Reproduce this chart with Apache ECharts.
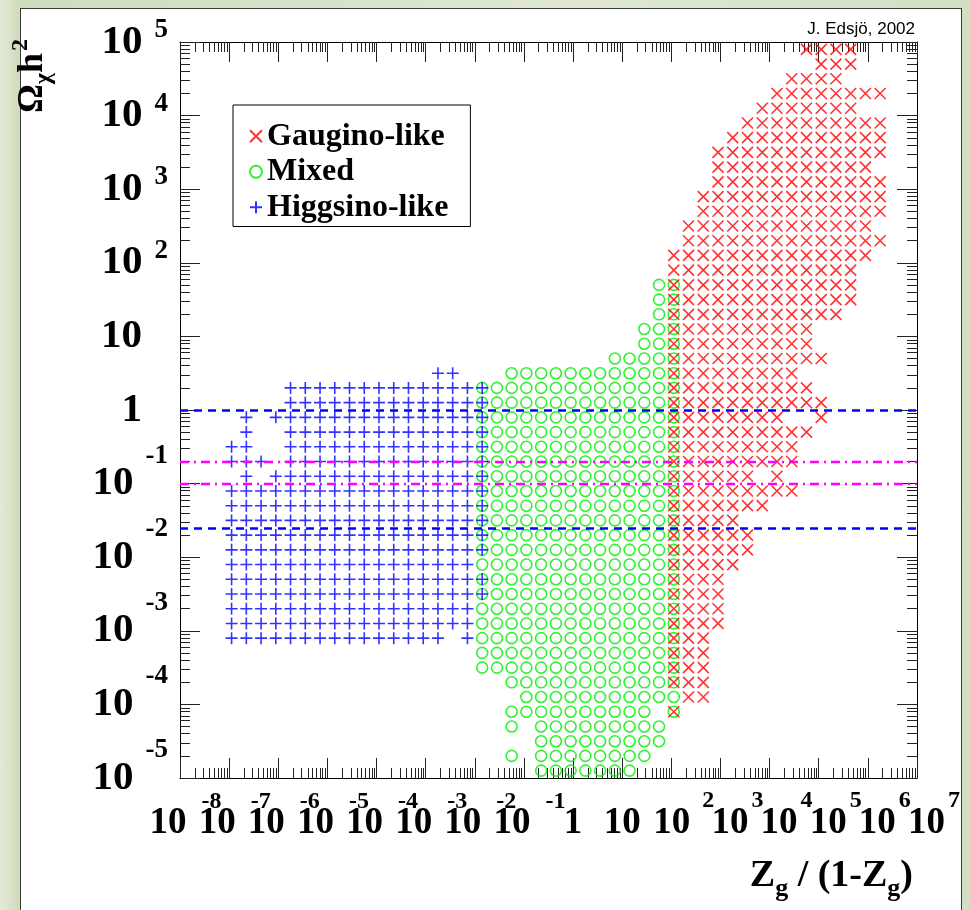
<!DOCTYPE html>
<html><head><meta charset="utf-8">
<script src="https://cdn.jsdelivr.net/npm/echarts@6/dist/echarts.min.js"></script>
<style>
html,body{margin:0;padding:0;}
body{width:969px;height:910px;position:relative;overflow:hidden;
 background:linear-gradient(90deg,#e3ead8 0px,#cfdcbd 18px,#dfe7d3 60%,#d3dfc3 100%);}
#panel{position:absolute;left:20px;top:8px;width:942px;height:904px;background:#fff;border:1.5px solid #3a3a3a;box-sizing:border-box;}
#c{position:absolute;left:0;top:0;width:969px;height:910px;}
</style>
</head><body><div id="panel"></div><div id="c"></div><script>
// ---- data: 2-D bins (log10 centres) and occupied cells ----
const xBinCentres = [-7.85,-7.55,-7.25,-6.95,-6.65,-6.35,-6.05,-5.75,-5.45,-5.15,
 -4.85,-4.55,-4.25,-3.95,-3.65,-3.35,-3.05,-2.75,-2.45,-2.15,
 -1.85,-1.55,-1.25,-0.95,-0.65,-0.35,-0.05,0.25,0.55,0.85,
 1.15,1.45,1.75,2.05,2.35,2.65,2.95,3.25,3.55,3.85,
 4.15,4.45,4.75,5.05,5.35,5.65,5.95,6.25,6.55,6.85];
const yBinCentres = [4.9,4.7,4.5,4.3,4.1,3.9,3.7,3.5,3.3,3.1,
 2.9,2.7,2.5,2.3,2.1,1.9,1.7,1.5,1.3,1.1,
 0.9,0.7,0.5,0.3,0.1,-0.1,-0.3,-0.5,-0.7,-0.9,
 -1.1,-1.3,-1.5,-1.7,-1.9,-2.1,-2.3,-2.5,-2.7,-2.9,
 -3.1,-3.3,-3.5,-3.7,-3.9,-4.1,-4.3,-4.5,-4.7,-4.9];

const gauginoMap = [
".......... .......... .......... .......... ..####....",
".......... .......... .......... .......... ...###....",
".......... .......... .......... .......... .####.....",
".......... .......... .......... .......... ########..",
".......... .......... .......... .........# ######....",
".......... .......... .......... ........## ########..",
".......... .......... .......... .......### ########..",
".......... .......... .......... ......#### ########..",
".......... .......... .......... ......#### #######...",
".......... .......... .......... ......#### ########..",
".......... .......... .......... .....##### ########..",
".......... .......... .......... .....##### ########..",
".......... .......... .......... ....###### #######...",
".......... .......... .......... ....###### ########..",
".......... .......... .......... ...####### #######...",
".......... .......... .......... ...####### ######....",
".......... .......... .......... ...####### ######....",
".......... .......... .......... ...####### ######....",
".......... .......... .......... ...####### #####.....",
".......... .......... .......... ...####### ###.......",
".......... .......... .......... ...####### ###.......",
".......... .......... .......... ...####### ####......",
".......... .......... .......... ...####### ##........",
".......... .......... .......... ...####### ###.......",
".......... .......... .......... ...####### ####......",
".......... .......... .......... ...####### #..#......",
".......... .......... .......... ...####### ###.......",
".......... .......... .......... ...####### ##........",
".......... .......... .......... ...####### ##........",
".......... .......... .......... ...######. #.........",
".......... .......... .......... ...####### ##........",
".......... .......... .......... ...####### ..........",
".......... .......... .......... ...#####.. ..........",
".......... .......... .......... ...######. ..........",
".......... .......... .......... ...######. ..........",
".......... .......... .......... ...#####.. ..........",
".......... .......... .......... ...####... ..........",
".......... .......... .......... ...####... ..........",
".......... .......... .......... ...####... ..........",
".......... .......... .......... ...####... ..........",
".......... .......... .......... ...###.... ..........",
".......... .......... .......... ...###.... ..........",
".......... .......... .......... ...###.... ..........",
".......... .......... .......... ...###.... ..........",
".......... .......... .......... ....##.... ..........",
".......... .......... .......... ...#...... ..........",
".......... .......... .......... .......... ..........",
".......... .......... .......... .......... ..........",
".......... .......... .......... .......... ..........",
".......... .......... .......... .......... .........."];

const mixedMap = [
".......... .......... .......... .......... ..........",
".......... .......... .......... .......... ..........",
".......... .......... .......... .......... ..........",
".......... .......... .......... .......... ..........",
".......... .......... .......... .......... ..........",
".......... .......... .......... .......... ..........",
".......... .......... .......... .......... ..........",
".......... .......... .......... .......... ..........",
".......... .......... .......... .......... ..........",
".......... .......... .......... .......... ..........",
".......... .......... .......... .......... ..........",
".......... .......... .......... .......... ..........",
".......... .......... .......... .......... ..........",
".......... .......... .......... .......... ..........",
".......... .......... .......... .......... ..........",
".......... .......... .......... .......... ..........",
".......... .......... .......... ..##...... ..........",
".......... .......... .......... ..##...... ..........",
".......... .......... .......... ..##...... ..........",
".......... .......... .......... .###...... ..........",
".......... .......... .......... .###...... ..........",
".......... .......... .........# ####...... ..........",
".......... .......... ..######## ####...... ..........",
".......... .......... ########## ####...... ..........",
".......... .......... ########## ####...... ..........",
".......... .......... ########## ####...... ..........",
".......... .......... ########## ####...... ..........",
".......... .......... ########## ####...... ..........",
".......... .......... ########## ####...... ..........",
".......... .......... ########## ####...... ..........",
".......... .......... ########## ####...... ..........",
".......... .......... ########## ####...... ..........",
".......... .......... ########## ####...... ..........",
".......... .......... ########## ####...... ..........",
".......... .......... ########## ####...... ..........",
".......... .......... ########## ####...... ..........",
".......... .......... ########## ####...... ..........",
".......... .......... ########## ####...... ..........",
".......... .......... ########## ####...... ..........",
".......... .......... ########## ####...... ..........",
".......... .......... ########## ####...... ..........",
".......... .......... ########## ####...... ..........",
".......... .......... ########## ####...... ..........",
".......... .......... ..######## ####...... ..........",
".......... .......... ...####### ####...... ..........",
".......... .......... ..######## ##.#...... ..........",
".......... .......... ..#.###### ###....... ..........",
".......... .......... ....###### ###....... ..........",
".......... .......... ..#.###### ##........ ..........",
".......... .......... ....###### #......... .........."];

const higgsinoMap = [
".......... .......... .......... .......... ..........",
".......... .......... .......... .......... ..........",
".......... .......... .......... .......... ..........",
".......... .......... .......... .......... ..........",
".......... .......... .......... .......... ..........",
".......... .......... .......... .......... ..........",
".......... .......... .......... .......... ..........",
".......... .......... .......... .......... ..........",
".......... .......... .......... .......... ..........",
".......... .......... .......... .......... ..........",
".......... .......... .......... .......... ..........",
".......... .......... .......... .......... ..........",
".......... .......... .......... .......... ..........",
".......... .......... .......... .......... ..........",
".......... .......... .......... .......... ..........",
".......... .......... .......... .......... ..........",
".......... .......... .......... .......... ..........",
".......... .......... .......... .......... ..........",
".......... .......... .......... .......... ..........",
".......... .......... .......... .......... ..........",
".......... .......... .......... .......... ..........",
".......... .......... .......... .......... ..........",
".......... .......##. .......... .......... ..........",
".......### ########## #......... .......... ..........",
".......### ########## #......... .......... ..........",
"....#.#### ########## #......... .......... ..........",
"....#..### ########## #......... .......... ..........",
"...##..### ########## #......... .......... ..........",
"...###.### ########## #......... .......... ..........",
"....#.#### ########## #......... .......... ..........",
"...####### ########## #......... .......... ..........",
"...####### ########## #......... .......... ..........",
"...####### ########## #......... .......... ..........",
"...####### ########## #......... .......... ..........",
"...####### ########## #......... .......... ..........",
"...####### ########## .......... .......... ..........",
"...####### ########## #......... .......... ..........",
"...####### ########## #......... .......... ..........",
"...####### ########## .......... .......... ..........",
"...####### ########## .......... .......... ..........",
"...####### ########.# .......... .......... ..........",
".......... .......... .......... .......... ..........",
".......... .......... .......... .......... ..........",
".......... .......... .......... .......... ..........",
".......... .......... .......... .......... ..........",
".......... .......... .......... .......... ..........",
".......... .......... .......... .......... ..........",
".......... .......... .......... .......... ..........",
".......... .......... .......... .......... ..........",
".......... .......... .......... .......... .........."];

const seriesNames = ['Gaugino-like', 'Mixed', 'Higgsino-like'];
const xTickExponents = [-8,-7,-6,-5,-4,-3,-2,-1,0,1,2,3,4,5,6,7];
const yTickExponents = [-5,-4,-3,-2,-1,0,1,2,3,4,5];
const blueDashedLevels = [1, 0.025];
const magentaDashDotLevels = [0.2, 0.1];
const xTitle = ['Z', 'g', ' / (1-Z', 'g', ')'];
const yTitle = ['Ω', 'χ', 'h', '2'];
const creditText = 'J. Edsjö, 2002';

// ---- helpers ----
function cells(map) {
  const out = [];
  map.forEach((row, r) => {
    const s = row.replace(/ /g, '');
    for (let i = 0; i < s.length; i++) if (s[i] === '#') out.push([xBinCentres[i], yBinCentres[r]]);
  });
  return out;
}
function minorTicks(lo, hi) {
  const v = [];
  for (let d = lo; d < hi; d++) for (let k = 2; k <= 9; k++) v.push(d + Math.log10(k));
  return v;
}
const SERIF = 'Liberation Serif';
const sb = (size, extra) => Object.assign({fontFamily: SERIF, fontWeight: 'bold', fontSize: size, color: '#000'}, extra || {});
const TICK = '#222';

function xLabel(v) {
  const e = Math.round(v);
  if (e === 0) return '{b|1}';
  if (e === 1) return '{b|10}';
  if (e < 0) return '{bn|10}{en|' + e + '}';
  if (e === 2) return '{b2|10}{e2|2}';
  return '{b3|10}{e3|' + e + '}';
}
function yLabel(v) {
  const e = Math.round(v);
  if (e === 0) return '{b|1}{sp| }';
  if (e === 1) return '{b|10}{sp| }';
  if (e < 0) return '{b|10}{en|' + e + '}';
  return '{b|10}{ep|' + e + '}';
}

const xMin = xTickExponents[0], xMax = xTickExponents[xTickExponents.length - 1];
const yMin = yTickExponents[0], yMax = yTickExponents[yTickExponents.length - 1];
// labels split over two axes (alternate decades) so that ECharts does not drop overlapping ones
const xLabelsA = xTickExponents.filter((e, k) => k % 2 === 0);
const xLabelsB = xTickExponents.filter((e, k) => k % 2 === 1);
const yLabelsA = yTickExponents.filter((e, k) => k % 2 === 0);
const yLabelsB = yTickExponents.filter((e, k) => k % 2 === 1);

function axisBase(extra) {
  return Object.assign({type: 'value', splitLine: {show: false}, axisPointer: {show: false}}, extra);
}
const hiddenLine = {show: false, onZero: false};
const frameLine = {show: true, onZero: false, lineStyle: {color: '#000', width: 1}};
const noTick = {show: false};

const xRich = {
  b: sb(37, {lineHeight: 40}),
  bn: sb(37, {lineHeight: 40, padding: [0, 0, 0, 11]}),
  en: sb(24, {lineHeight: 24, padding: [0, 0, 42, 15]}),
  b2: sb(37, {lineHeight: 40, padding: [0, 0, 0, 25]}),
  e2: sb(24, {lineHeight: 24, padding: [0, 0, 44, 12]}),
  b3: sb(37, {lineHeight: 40, padding: [0, 0, 0, 34]}),
  e3: sb(24, {lineHeight: 24, padding: [0, 0, 44, 3]})
};
const yRich = {
  b: sb(41, {lineHeight: 44}),
  sp: sb(27, {lineHeight: 27, width: 26}),
  ep: sb(27, {lineHeight: 27, padding: [0, 0, 24, 12]}),
  en: sb(27, {lineHeight: 27, padding: [0, 0, 56, 12]})
};
function xLabelCfg(values) {
  return {show: true, customValues: values, showMinLabel: true, showMaxLabel: true, hideOverlap: false,
    margin: 45, verticalAlign: 'middle', align: 'center', formatter: xLabel, rich: xRich};
}
function yLabelCfg(values) {
  return {show: true, customValues: values, showMinLabel: true, showMaxLabel: true, hideOverlap: false,
    margin: 12, align: 'right', verticalAlign: 'middle', formatter: yLabel, rich: yRich};
}

const xAxes = [
  axisBase({min: xMin, max: xMax, interval: 1, position: 'bottom', axisLine: frameLine,
    axisTick: {show: true, inside: true, length: 20, lineStyle: {color: TICK, width: 1}},
    axisLabel: xLabelCfg(xLabelsA)}),
  axisBase({min: xMin, max: xMax, position: 'bottom', axisLine: hiddenLine, axisLabel: {show: false},
    axisTick: {show: true, inside: true, length: 10, customValues: minorTicks(xMin, xMax), lineStyle: {color: TICK, width: 1}}}),
  axisBase({min: xMin, max: xMax, interval: 1, position: 'top', axisLine: frameLine,
    axisTick: {show: true, inside: true, length: 20, lineStyle: {color: TICK, width: 1}},
    axisLabel: {show: false}}),
  axisBase({min: xMin, max: xMax, position: 'top', axisLine: hiddenLine, axisLabel: {show: false},
    axisTick: {show: true, inside: true, length: 10, customValues: minorTicks(xMin, xMax), lineStyle: {color: TICK, width: 1}}}),
  axisBase({min: xMin, max: xMax, interval: 1, position: 'bottom', axisLine: hiddenLine, axisTick: noTick,
    axisLabel: xLabelCfg(xLabelsB)})
];
const yAxes = [
  axisBase({min: yMin, max: yMax, interval: 1, position: 'left', axisLine: frameLine,
    axisTick: {show: true, inside: true, length: 20, lineStyle: {color: TICK, width: 1}},
    axisLabel: yLabelCfg(yLabelsA)}),
  axisBase({min: yMin, max: yMax, position: 'left', axisLine: hiddenLine, axisLabel: {show: false},
    axisTick: {show: true, inside: true, length: 10, customValues: minorTicks(yMin, yMax), lineStyle: {color: TICK, width: 1}}}),
  axisBase({min: yMin, max: yMax, interval: 1, position: 'right', axisLine: frameLine,
    axisTick: {show: true, inside: true, length: 20, lineStyle: {color: TICK, width: 1}},
    axisLabel: {show: false}}),
  axisBase({min: yMin, max: yMax, position: 'right', axisLine: hiddenLine, axisLabel: {show: false},
    axisTick: {show: true, inside: true, length: 10, customValues: minorTicks(yMin, yMax), lineStyle: {color: TICK, width: 1}}}),
  axisBase({min: yMin, max: yMax, interval: 1, position: 'left', axisLine: hiddenLine, axisTick: noTick,
    axisLabel: yLabelCfg(yLabelsB)})
];

const X_PATH = 'path://M0,0L10,10M10,0L0,10';
const PLUS_PATH = 'path://M5,0L5,10M0,5L10,5';

function markerSeries(name, data, symbol, size, color) {
  return {
    name, type: 'scatter', data, symbol, symbolSize: size, silent: true,
    itemStyle: {color: 'transparent', borderColor: color, borderWidth: 1.6},
    emphasis: {disabled: true}
  };
}

const refLineData = [
  ...blueDashedLevels.map(v => ({yAxis: Math.log10(v), lineStyle: {color: '#0000ff', width: 2.5, type: [8, 6]}})),
  ...magentaDashDotLevels.map(v => ({yAxis: Math.log10(v), lineStyle: {color: '#ff00ff', width: 2.3, type: [9, 5, 2, 5]}}))
];

const option = {
  animation: false,
  backgroundColor: 'transparent',
  grid: {left: 180, top: 42, width: 737, height: 736, containLabel: false, outerBoundsMode: 'none'},
  xAxis: xAxes,
  yAxis: yAxes,
  legend: {
    data: seriesNames, orient: 'vertical', left: 233, top: 105,
    selectedMode: false, itemWidth: 12, itemHeight: 12, itemGap: 1, itemTextGap: 12,
    padding: [14, 22, 2, 16], borderColor: '#000', borderWidth: 1, backgroundColor: '#fff', borderRadius: 0,
    textStyle: sb(32, {lineHeight: 34.5})
  },
  series: [
    markerSeries(seriesNames[1], cells(mixedMap), 'circle', 11, '#00ee00'),
    markerSeries(seriesNames[2], cells(higgsinoMap), PLUS_PATH, 12, '#0000ff'),
    markerSeries(seriesNames[0], cells(gauginoMap), X_PATH, 11, '#ff0000'),
    {name: 'refs', type: 'scatter', data: [], silent: true,
     markLine: {silent: true, symbol: ['none', 'none'], label: {show: false}, data: refLineData}}
  ],
  graphic: [
    {type: 'text', right: 54, top: 21, style: {text: creditText, font: '17px "Liberation Sans"', fill: '#000'}},
    {type: 'text', right: 56, top: 850, style: {
      text: '{z|' + xTitle[0] + '}{s|' + xTitle[1] + '}{z|' + xTitle[2] + '}{s|' + xTitle[3] + '}{z|' + xTitle[4] + '}',
      rich: {z: sb(38, {lineHeight: 42}), s: sb(26, {lineHeight: 26, padding: [26, 0, 0, 0]})}}},
    {type: 'text', x: 33, y: 113, rotation: Math.PI / 2, style: {
      text: '{o|' + yTitle[0] + '}{s|' + yTitle[1] + '}{o|' + yTitle[2] + '}{p|' + yTitle[3] + '}',
      align: 'left', verticalAlign: 'middle',
      rich: {o: sb(36, {lineHeight: 40}), s: sb(24, {lineHeight: 24, padding: [22, 0, 0, 0]}), p: sb(24, {lineHeight: 24, padding: [0, 0, 24, 2]})}}}
  ]
};
const chart = echarts.init(document.getElementById('c'));
chart.setOption(option);
</script></body></html>
